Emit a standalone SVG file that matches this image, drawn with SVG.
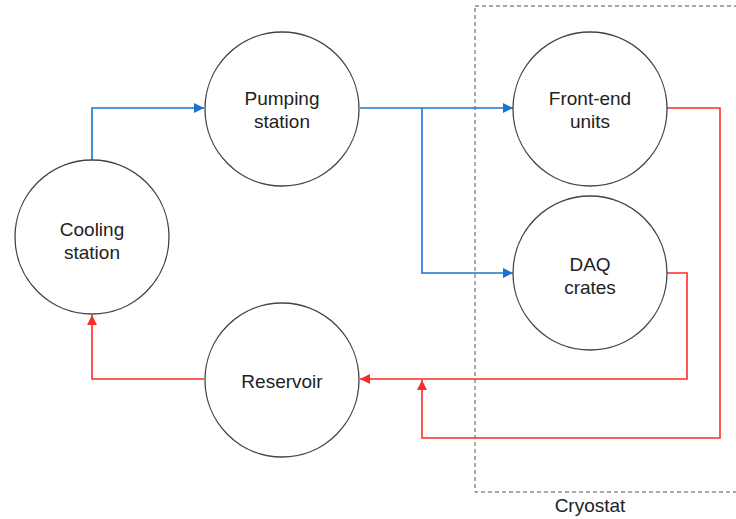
<svg xmlns="http://www.w3.org/2000/svg" width="736" height="519" viewBox="0 0 736 519">
<style>
.node circle{fill:#fff;stroke:#444;stroke-width:1.3}
.node text,.lbl{font-family:"Liberation Sans",Arial,sans-serif;font-size:19px;fill:#222;text-anchor:middle}
.blue{fill:none;stroke:#1874cd;stroke-width:1.6}
.red{fill:none;stroke:#ff2a2a;stroke-width:1.6}
</style>
<defs>
<marker id="ab" viewBox="0 0 10 10" refX="10" refY="5" markerWidth="10" markerHeight="10" markerUnits="userSpaceOnUse" orient="auto"><path d="M0,0 L10,5 L0,10 z" fill="#1874cd"/></marker>
<marker id="ar" viewBox="0 0 10 10" refX="10" refY="5" markerWidth="10" markerHeight="10" markerUnits="userSpaceOnUse" orient="auto"><path d="M0,0 L10,5 L0,10 z" fill="#ff2a2a"/></marker>
</defs>
<rect width="736" height="519" fill="#fff"/>
<g id="cryostat">
<rect x="475" y="6" width="280" height="486" fill="none" stroke="#555" stroke-width="1" stroke-dasharray="4,3"/>
<text class="lbl" x="590" y="512">Cryostat</text>
</g>
<g id="connectors">
<path class="blue" d="M92,160 V108 H204" marker-end="url(#ab)"/>
<path class="blue" d="M360,108 H513" marker-end="url(#ab)"/>
<path class="blue" d="M422,108 V273 H513" marker-end="url(#ab)"/>
<path class="red" d="M667,108 H720 V438 H422 V380" marker-end="url(#ar)"/>
<path class="red" d="M667,273 H687 V379 H360" marker-end="url(#ar)"/>
<path class="red" d="M204,379 H92 V315" marker-end="url(#ar)"/>
</g>
<g id="pumping" class="node"><circle cx="282" cy="109" r="77"/><text x="282" y="105">Pumping</text><text x="282" y="128">station</text></g>
<g id="cooling" class="node"><circle cx="92" cy="237" r="77"/><text x="92" y="236">Cooling</text><text x="92" y="259">station</text></g>
<g id="frontend" class="node"><circle cx="590" cy="109" r="77"/><text x="590" y="105">Front-end</text><text x="590" y="128">units</text></g>
<g id="daq" class="node"><circle cx="590" cy="273" r="77"/><text x="590" y="271">DAQ</text><text x="590" y="294">crates</text></g>
<g id="reservoir" class="node"><circle cx="282" cy="380" r="77"/><text x="282" y="388">Reservoir</text></g>
</svg>
